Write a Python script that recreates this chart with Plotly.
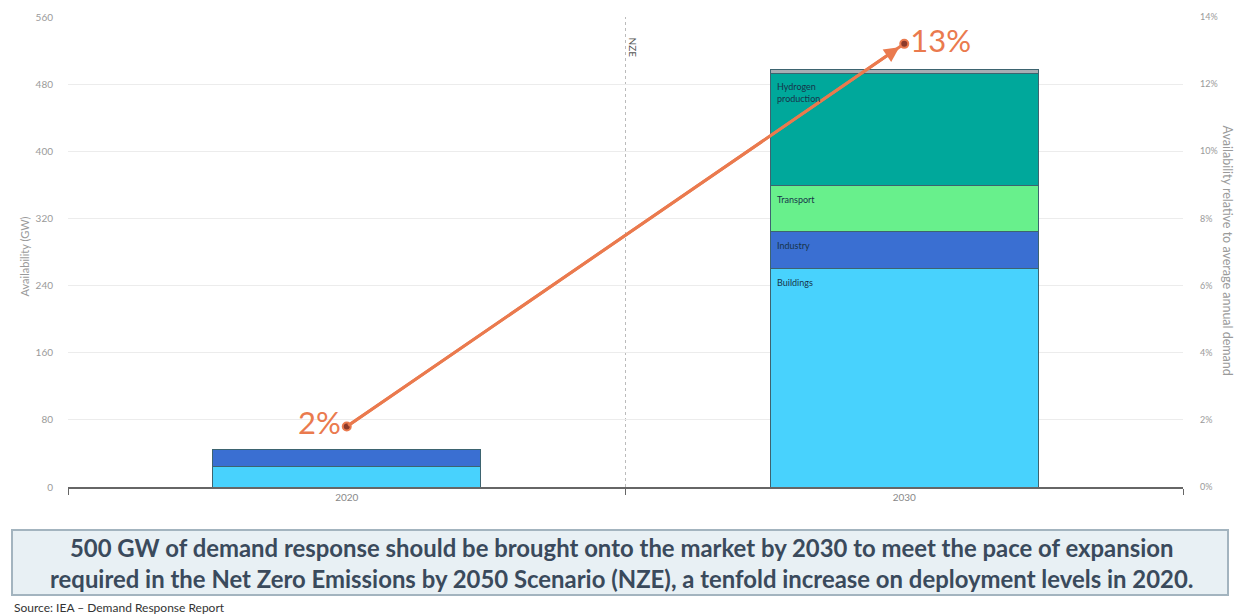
import plotly.graph_objects as go

years = ["2020", "2030"]
buildings = [24, 260]
industry = [21, 44]
transport = [0, 55]
hydrogen = [0, 134]
other = [0, 5]
share_pct = [1.8, 13.2]
share_labels = ["2%", "13%"]
y_ticks = [0, 80, 160, 240, 320, 400, 480, 560]
y2_ticks = [0, 2, 4, 6, 8, 10, 12, 14]

series = [
    ("Buildings", buildings, "#48D2FD"),
    ("Industry", industry, "#3A6FD2"),
    ("Transport", transport, "#68F08C"),
    ("Hydrogen<br>production", hydrogen, "#00A89B"),
    ("Other", other, "#A7AEB4"),
]

W, H = 1250, 616
L, R, T, B = 68, 67, 17, 129
pw, ph = W - L - R, H - T - B

def px(x):
    return (x - L) / pw

def py(y):
    return (H - B - y) / ph

fig = go.Figure()
for name, vals, col in series:
    fig.add_trace(go.Bar(
        x=years, y=vals, name=name, marker=dict(color=col, line=dict(color="#3d6470", width=1)),
        width=0.48, showlegend=False, hoverinfo="skip"))

orange = "#EA7A4E"
fig.add_trace(go.Scatter(
    x=years, y=share_pct, yaxis="y2", mode="lines+markers+text",
    line=dict(color=orange, width=3),
    marker=dict(size=8, color="#8B3A2A", line=dict(color=orange, width=2)),
    text=share_labels, textposition=["middle left", "middle right"],
    textfont=dict(size=31, color=orange, family="Lato"),
    showlegend=False, hoverinfo="skip", cliponaxis=False))

annotations = []
annotations.append(dict(
    x=1, y=share_pct[1], xref="x", yref="y2", ax=0, ay=share_pct[0], axref="x", ayref="y2",
    text="", showarrow=True, arrowhead=2, arrowsize=1, arrowwidth=3, arrowcolor=orange, standoff=6))

cum = 0
for name, vals, col in series[:4]:
    top = cum + vals[1]
    annotations.append(dict(
        x=1, y=top, xref="x", yref="y", xshift=-129, yshift=-6, xanchor="left", yanchor="top",
        text=name, showarrow=False, align="left",
        font=dict(size=9, color="#17344a", family="Lato")))
    cum = top

annotations += [
    dict(x=0.5, y=py(35), xref="x", yref="paper", xshift=7, text="NZE", textangle=90, showarrow=False,
         font=dict(size=10, color="#555", family="Lato")),
    dict(x=px(15), y=py(257), xref="paper", yref="paper", text="Availability (GW)", textangle=-90,
         showarrow=False, font=dict(size=11, color="#9a9a9a", family="Lato")),
    dict(x=px(1237), y=py(250), xref="paper", yref="paper",
         text="Availability relative to average annual demand", textangle=90,
         showarrow=False, font=dict(size=12.5, color="#9a9a9a", family="Lato")),
    dict(x=px(621), y=py(563), xref="paper", yref="paper", xanchor="center", yanchor="middle",
         text="<b>500 GW of demand response should be brought onto the market by 2030 to meet the pace of expansion<br>"
              "required in the Net Zero Emissions by 2050 Scenario (NZE), a tenfold increase on deployment levels in 2020.</b>",
         showarrow=False, align="center", font=dict(size=23.9, color="#3a4a5c", family="Lato")),
    dict(x=px(12), y=py(607), xref="paper", yref="paper", xanchor="left", yanchor="middle",
         text="Source: IEA \u2013 Demand Response Report", showarrow=False,
         font=dict(size=12, color="#333", family="Lato")),
]

shapes = [
    dict(type="line", x0=0.5, x1=0.5, y0=0, y1=1.0, xref="x", yref="paper",
         line=dict(color="#bbbbbb", width=1, dash="dot"), layer="below"),
    dict(type="rect", x0=px(12), x1=px(1228), y0=py(530), y1=py(595), xref="paper", yref="paper",
         fillcolor="#e8f0f4", line=dict(color="#a3b4bf", width=2)),
]

fig.update_layout(
    width=W, height=H, margin=dict(l=L, r=R, t=T, b=B, autoexpand=False),
    barmode="stack", plot_bgcolor="white", paper_bgcolor="white",
    font=dict(family="Lato", color="#9a9a9a", size=10),
    xaxis=dict(type="category", showgrid=False, showline=True, linecolor="#666", linewidth=1.5,
               ticks="outside", tickson="boundaries", ticklen=6, tickcolor="#666",
               tickfont=dict(size=10, color="#888"), range=[-0.5, 1.5], automargin=False),
    yaxis=dict(range=[0, 560], tickvals=y_ticks, showgrid=True, gridcolor="#ececec", gridwidth=1,
               zeroline=False, ticklabelstandoff=14, tickfont=dict(size=10, color="#9a9a9a"),
               automargin=False),
    yaxis2=dict(range=[0, 14], tickvals=y2_ticks, ticktext=[f"{v}%" for v in y2_ticks],
                overlaying="y", side="right", showgrid=False, zeroline=False, ticklabelstandoff=16,
                tickfont=dict(size=9, color="#9a9a9a"), automargin=False),
    annotations=annotations, shapes=shapes, showlegend=False,
)

fig.write_html("out.html", post_script="document.body.style.margin='0';",
               config={"displayModeBar": False})
